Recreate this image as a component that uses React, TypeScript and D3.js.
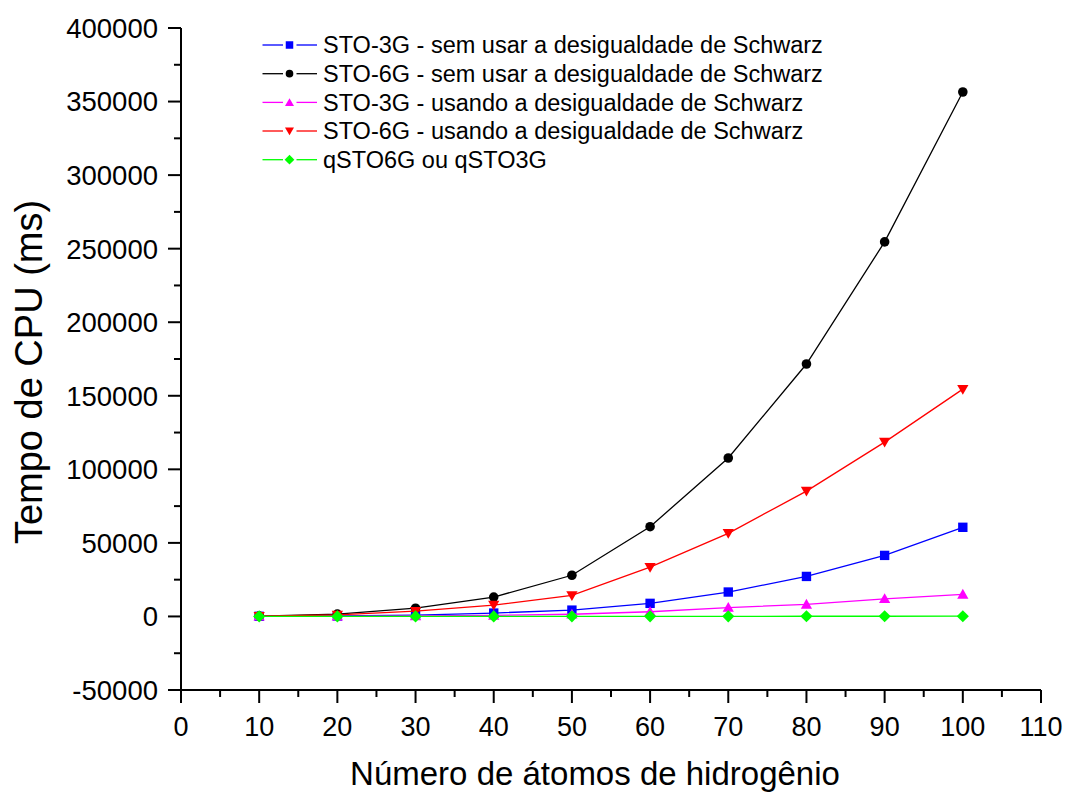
import React from "react";
import * as d3 from "d3";

const atoms = [10, 20, 30, 40, 50, 60, 70, 80, 90, 100];
const sto3gSem = [100, 300, 900, 2300, 4300, 8900, 16600, 27200, 41500, 60600];
const sto6gSem = [200, 1600, 5600, 13200, 28000, 61000, 107700, 171600, 254600, 356500];
const sto3gUsando = [50, 100, 300, 700, 1500, 3200, 6000, 8200, 12000, 15000];
const sto6gUsando = [150, 1000, 3600, 7700, 14300, 33500, 56500, 85200, 118500, 154500];
const qsto = [10, 20, 30, 40, 60, 80, 100, 120, 140, 160];

const seriesNames = [
  "STO-3G - sem usar a desigualdade de Schwarz",
  "STO-6G - sem usar a desigualdade de Schwarz",
  "STO-3G - usando a desigualdade de Schwarz",
  "STO-6G - usando a desigualdade de Schwarz",
  "qSTO6G ou qSTO3G",
];
const seriesValues = [sto3gSem, sto6gSem, sto3gUsando, sto6gUsando, qsto];
const seriesColors = ["#0000ff", "#000000", "#ff00ff", "#ff0000", "#00ff00"];
const seriesMarkers = ["square", "circle", "triangleUp", "triangleDown", "diamond"];

const xTicks = [0, 10, 20, 30, 40, 50, 60, 70, 80, 90, 100, 110];
const yTicks = [-50000, 0, 50000, 100000, 150000, 200000, 250000, 300000, 350000, 400000];

const FONT = "'Liberation Sans', Arial, sans-serif";

function markerPath(kind: string, scale: number) {
  const s = scale;
  switch (kind) {
    case "square":
      return d3.symbol(d3.symbolSquare, 88 * s * s)();
    case "circle":
      return d3.symbol(d3.symbolCircle, 72 * s * s)();
    case "triangleUp":
    case "triangleDown":
      return d3.symbol(d3.symbolTriangle, 55 * s * s)();
    case "diamond":
      return d3.symbol(d3.symbolSquare, 74 * s * s)();
  }
  return "";
}

function markerTransform(kind: string, x: number, y: number) {
  if (kind === "triangleDown") return `translate(${x},${y - 1}) rotate(180)`;
  if (kind === "triangleUp") return `translate(${x},${y + 1})`;
  if (kind === "diamond") return `translate(${x},${y}) rotate(45)`;
  return `translate(${x},${y})`;
}

export default function App() {
  const W = 1067;
  const H = 796;
  const x = d3.scaleLinear().domain([0, 110]).range([181, 1041]);
  const y = d3.scaleLinear().domain([-50000, 400000]).range([690, 28]);

  const line = d3
    .line<number>()
    .x((_, i) => x(atoms[i]))
    .y((d) => y(d));

  const xMinor = d3.range(5, 110, 10);
  const yMinor = d3.range(-25000, 400000, 50000);

  const legendRows = [45, 73.7, 102.4, 131, 159.7];

  return (
    <svg
      width={W}
      height={H}
      style={{ position: "absolute", left: 0, top: 0, background: "#fff" }}
      fontFamily={FONT}
    >
      <rect x={0} y={0} width={W} height={H} fill="#fff" />
      {/* axes */}
      <line x1={x(0)} x2={x(110)} y1={690} y2={690} stroke="#000" strokeWidth={2} />
      <line x1={181} x2={181} y1={y(400000)} y2={y(-50000)} stroke="#000" strokeWidth={2} />
      {xTicks.map((t) => (
        <g key={"xt" + t}>
          <line x1={x(t)} x2={x(t)} y1={690} y2={703} stroke="#000" strokeWidth={2} />
          <text x={x(t)} y={736} textAnchor="middle" fontSize={27}>
            {t}
          </text>
        </g>
      ))}
      {xMinor.map((t) => (
        <line key={"xm" + t} x1={x(t)} x2={x(t)} y1={690} y2={697} stroke="#000" strokeWidth={2} />
      ))}
      {yTicks.map((t) => (
        <g key={"yt" + t}>
          <line x1={168} x2={181} y1={y(t)} y2={y(t)} stroke="#000" strokeWidth={2} />
          <text x={158} y={y(t)} dy="0.36em" textAnchor="end" fontSize={27.5}>
            {t}
          </text>
        </g>
      ))}
      {yMinor.map((t) => (
        <line key={"ym" + t} x1={174} x2={181} y1={y(t)} y2={y(t)} stroke="#000" strokeWidth={2} />
      ))}
      {/* axis titles */}
      <text
        transform={`translate(42,372) rotate(-90)`}
        textAnchor="middle"
        fontSize={38}
      >
        Tempo de CPU (ms)
      </text>
      <text x={595} y={785} textAnchor="middle" fontSize={33}>
        Número de átomos de hidrogênio
      </text>
      {/* series */}
      {seriesValues.map((vals, si) => (
        <g key={"s" + si}>
          <path d={line(vals) || ""} fill="none" stroke={seriesColors[si]} strokeWidth={1.3} />
          {vals.map((v, i) => (
            <path
              key={i}
              d={markerPath(seriesMarkers[si], 1) || ""}
              transform={markerTransform(seriesMarkers[si], x(atoms[i]), y(v))}
              fill={seriesColors[si]}
            />
          ))}
        </g>
      ))}
      {/* legend */}
      {seriesNames.map((name, si) => {
        const ly = legendRows[si];
        return (
          <g key={"lg" + si}>
            <line x1={262.5} x2={283} y1={ly} y2={ly} stroke={seriesColors[si]} strokeWidth={1.3} />
            <line x1={296.5} x2={317} y1={ly} y2={ly} stroke={seriesColors[si]} strokeWidth={1.3} />
            <path
              d={markerPath(seriesMarkers[si], 0.8) || ""}
              transform={markerTransform(seriesMarkers[si], 289.5, ly)}
              fill={seriesColors[si]}
            />
            <text x={323} y={ly} dy="0.36em" fontSize={23.5}>
              {name}
            </text>
          </g>
        );
      })}
    </svg>
  );
}
